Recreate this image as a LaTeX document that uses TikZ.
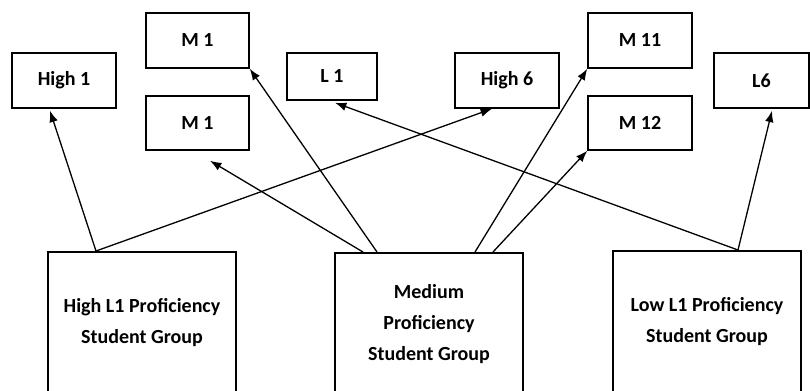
\documentclass[tikz,border=0pt]{standalone}
\usepackage{fontspec}
\setmainfont{Carlito}
\usetikzlibrary{arrows.meta,positioning}

\begin{document}
\begin{tikzpicture}[x=0.5pt,y=-0.5pt]
	\useasboundingbox (0,0) rectangle (810,391);
	\begin{scope}[every node/.style={rectangle,draw,line width=0.75pt,inner sep=0pt,font=\bfseries\fontsize{10}{15.5}\selectfont}]
		\node[minimum width=52pt,minimum height=27.5pt] (High1) at (64,80.5) {High 1};
		\node[minimum width=51.5pt,minimum height=27.5pt] (M1a) at (197.5,40.5) {M 1};
		\node[minimum width=51.5pt,minimum height=27pt] (M1b) at (197.5,123) {M 1};
		\node[minimum width=45pt,minimum height=23.5pt] (L1) at (332,76.5) {L 1};
		\node[minimum width=52pt,minimum height=27.5pt] (High6) at (507,80.5) {High 6};
		\node[minimum width=52pt,minimum height=27.5pt] (M11) at (640,40.5) {M 11};
		\node[minimum width=52pt,minimum height=27pt] (M12) at (640,123) {M 12};
		\node[minimum width=47.5pt,minimum height=27.5pt] (L6) at (761.5,80.5) {L6};
		\node[anchor=north,align=center,minimum width=94pt,minimum height=71pt] (HighG) at (142,251) {High L1 Proficiency\\Student Group};
		\node[anchor=north,align=center,minimum width=94pt,minimum height=71pt] (MedG) at (429,252) {Medium\\Proficiency\\Student Group};
		\node[anchor=north,align=center,minimum width=94pt,minimum height=71pt] (LowG) at (707,250) {Low L1 Proficiency\\Student Group};
	\end{scope}

	\begin{scope}[line width=0.65pt]
	\draw[-{Latex[length=2mm]}] ([xshift=-23pt]HighG.north) -- ([xshift=-7pt,yshift=-1pt]High1.south);
	\draw[-{Latex[length=2mm]}] ([xshift=-23pt]HighG.north) -- ([xshift=-7.5pt]High6.south);
	\draw[-{Latex[length=2mm]}] ([xshift=-33pt]MedG.north) -- ([xshift=6.25pt,yshift=-5pt]M1b.south);
	\draw[-{Latex[length=2mm]}] ([xshift=-26pt]MedG.north) -- (M1a.south east);
	\draw[-{Latex[length=2mm]}] ([xshift=23pt]MedG.north) -- (M11.south west);
	\draw[-{Latex[length=2mm]}] ([xshift=32pt]MedG.north) -- (M12.south west);
	\draw[-{Latex[length=2mm]}] ([xshift=15.5pt]LowG.north) -- ([xshift=1.5pt,yshift=-1pt]L1.south);
	\draw[-{Latex[length=2mm]}] ([xshift=15.5pt]LowG.north) -- ([xshift=5.25pt,yshift=-1pt]L6.south);
	\end{scope}
\end{tikzpicture}
\end{document}
